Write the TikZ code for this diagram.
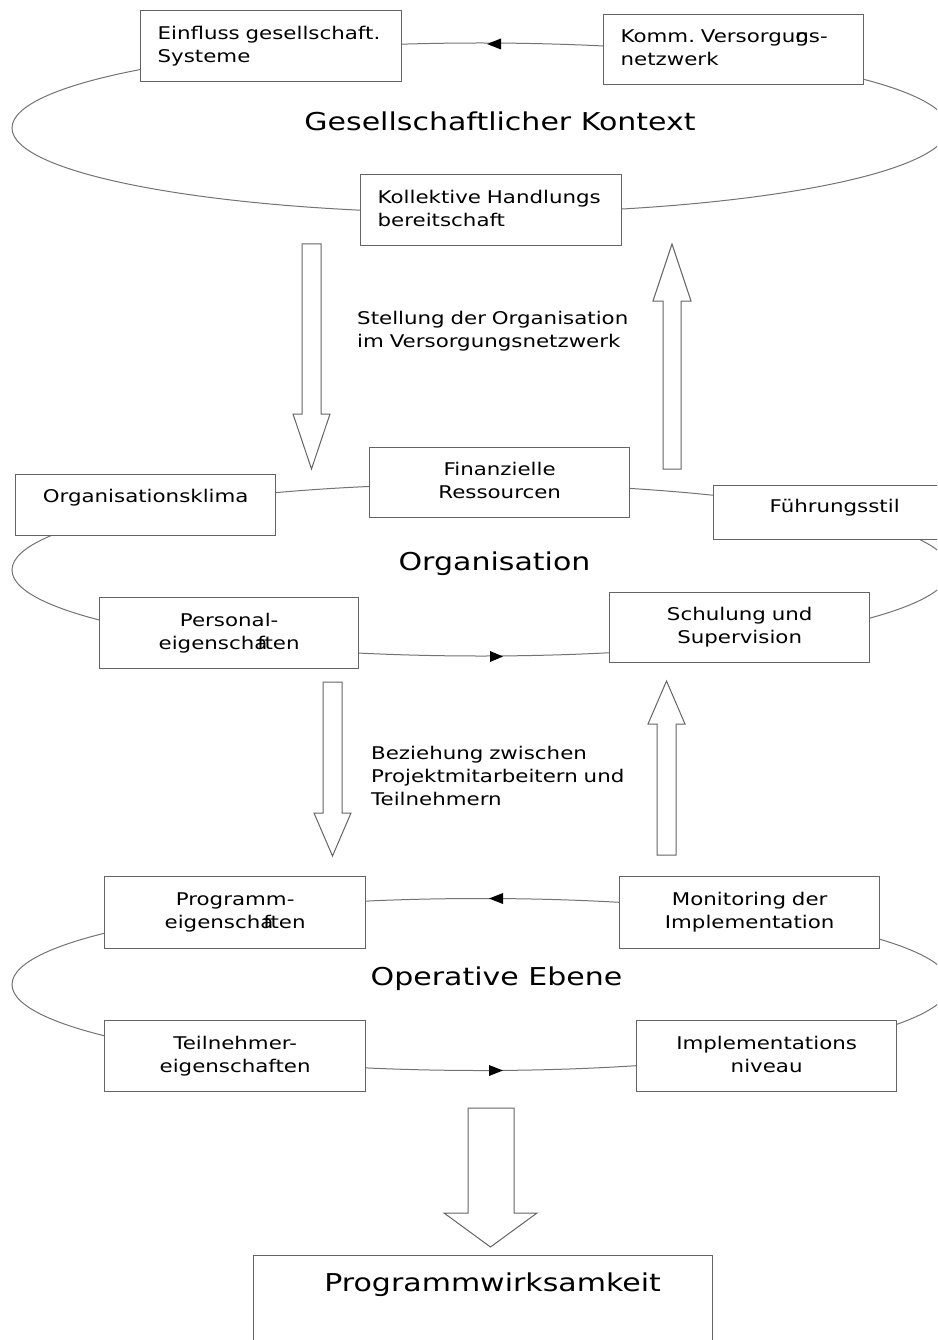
\documentclass[tikz,border=0pt]{standalone}
\usepackage{fontspec}
\newfontfamily\dvs[FakeStretch=1.22]{DejaVu Sans}
\usetikzlibrary{arrows.meta}
\definecolor{lin}{RGB}{100,100,100}
\definecolor{ell}{RGB}{115,115,115}
\begin{document}
\begin{tikzpicture}[x=1pt,y=-1pt,
  box/.style={draw=lin, line width=1.3pt, fill=white, inner sep=0pt, anchor=north west,
              font=\dvs\fontsize{17.5}{23}\selectfont},
  two/.style={text height=13pt, text depth=27pt},
  one/.style={text height=13pt, text depth=4pt},
  lft/.style={align=left},
  ctr/.style={align=center},
  title/.style={inner sep=0pt, anchor=base, font=\dvs\fontsize{24.6}{30}\selectfont},
  lbl/.style={inner sep=0pt, anchor=base west, align=left, text width=300pt,
              font=\dvs\fontsize{17.5}{23}\selectfont},
  loop/.style={draw=ell, line width=1pt},
  blk/.style={draw=lin, line width=1pt, fill=white, line join=miter},
  head/.style={fill=black}
]
\useasboundingbox (0,0) rectangle (937,1340);
\clip (0,0) rectangle (937,1340);
\fill[white] (0,0) rectangle (937,1340);

% loops
\draw[loop] (480,128) ellipse [x radius=468, y radius=85];
\draw[loop] (481,570) ellipse [x radius=469, y radius=86];
\draw[loop] (481,984.5) ellipse [x radius=469, y radius=86];

% arrowheads on loops
\fill[head] (487,44) -- (501,38.5) -- (501,49.5) -- cycle;
\fill[head] (503,656.5) -- (490,651) -- (490,662) -- cycle;
\fill[head] (489,898.5) -- (503,893) -- (503,904) -- cycle;
\fill[head] (503,1070.5) -- (489,1065) -- (489,1076) -- cycle;

% top level
\node[box, two, lft, minimum width=261pt, minimum height=71pt, text width=227pt] (einfluss) at (140,10)
  {Einfluss~gesellschaft.\\Systeme};
\node[box, two, lft, minimum width=260pt, minimum height=70pt, text width=226pt] (komm) at (603,14)
  {Komm.~Versorgu\rlap{n}gs-\\netzwerk};
\node[box, two, lft, minimum width=261pt, minimum height=71pt, text width=227pt] (koll) at (360,174)
  {Kollektive~Handlungs\\bereitschaft};
\node[title] (gk) at (500,131) {Gesellschaftlicher Kontext};

% block arrows between top and organisation
\draw[blk] (302,244) -- (321,244) -- (321,414) -- (330,414) -- (311.5,469) -- (293,414) -- (302,414) -- cycle;
\draw[blk] (663,469) -- (681,469) -- (681,301) -- (691,301) -- (672,244) -- (653,301) -- (663,301) -- cycle;
\node[lbl] (stellung) at (357,324) {Stellung~der~Organisation\\im~Versorgungsnetzwerk};

% organisation level
\node[box, minimum width=260pt, minimum height=61pt, text height=13pt, text depth=18pt, ctr, text width=250pt] (klima) at (15,474)
  {Organisationsklima};
\node[box, two, ctr, minimum width=260pt, minimum height=70pt, text width=250pt] (finanz) at (369,447)
  {Finanzielle\\Ressourcen};
\node[box, minimum width=242pt, minimum height=54pt, text height=13pt, text depth=13pt, ctr, text width=232pt] (fuehrung) at (713,485)
  {Führungsstil};
\node[box, two, ctr, minimum width=259pt, minimum height=71pt, text width=249pt] (personal) at (99,597)
  {Personal-\\eigenscha\kern-10pt ften};
\node[box, two, ctr, minimum width=260pt, minimum height=70pt, text width=250pt] (schulung) at (609,592)
  {Schulung und\\Supervision};
\node[title] (org) at (494.5,570) {Organisation};

% block arrows between organisation and operative level
\draw[blk] (323,682) -- (342,682) -- (342,813) -- (351,813) -- (332.5,856) -- (314,813) -- (323,813) -- cycle;
\draw[blk] (657,855) -- (676,855) -- (676,724) -- (685,724) -- (666.5,681) -- (648,724) -- (657,724) -- cycle;
\node[lbl] (beziehung) at (371,759) {Beziehung~zwischen\\Projektmitarbeitern~und\\Teilnehmern};

% operative level
\node[box, two, ctr, minimum width=261pt, minimum height=72pt, text width=251pt] (programm) at (104,876)
  {Programm-\\eigenscha\kern-10pt ften};
\node[box, two, ctr, minimum width=260pt, minimum height=72pt, text width=250pt] (monitoring) at (619,876)
  {Monitoring der\\Implementation};
\node[box, two, ctr, minimum width=261pt, minimum height=71pt, text width=251pt] (teilnehmer) at (104,1020)
  {Teilnehmer-\\eigenschaften};
\node[box, two, ctr, minimum width=260pt, minimum height=71pt, text width=250pt] (impl) at (636,1020)
  {Implementations\\niveau};
\node[title] (op) at (496.5,985) {Operative Ebene};

% result
\draw[blk] (468,1108) -- (514,1108) -- (514,1213) -- (537,1213) -- (490.5,1247) -- (444,1213) -- (468,1213) -- cycle;
\node[box, minimum width=459pt, minimum height=125pt, text height=19pt, text depth=72pt, align=center, text width=440pt,
      font=\dvs\fontsize{24.6}{30}\selectfont] (wirk) at (253,1255)
  {\hspace*{19pt}Programmwirksamkeit};
\end{tikzpicture}
\end{document}
